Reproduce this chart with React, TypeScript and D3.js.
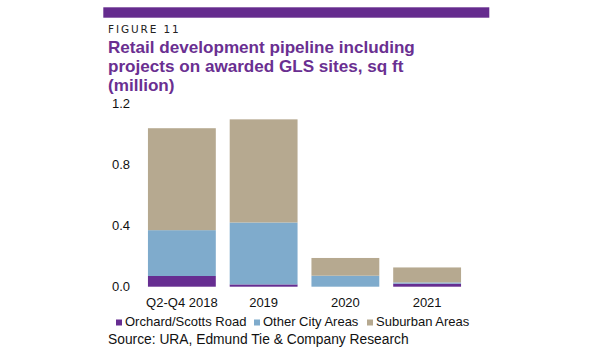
import React from "react";
import * as d3 from "d3";

const categories = ["Q2-Q4 2018", "2019", "2020", "2021"];
const seriesNames = ["Orchard/Scotts Road", "Other City Areas", "Suburban Areas"];
const orchard = [0.07, 0.015, 0.0, 0.02];
const otherCity = [0.3, 0.405, 0.072, 0.008];
const suburban = [0.667, 0.675, 0.116, 0.098];
const yTicks = [0.0, 0.4, 0.8, 1.2];
const colors = ["#662d91", "#7fabcc", "#b6a990"];
const titleLines = [
  "Retail development pipeline including",
  "projects on awarded GLS sites, sq ft",
  "(million)",
];

export default function App() {
  const W = 600, H = 360;
  const x = d3.scaleBand<string>().domain(categories).range([141, 468]).paddingInner(0.17).paddingOuter(0.085);
  const y = d3.scaleLinear().domain([0, 1.2]).range([286.7, 103.3]);
  const rows = categories.map((c, i) => ({ cat: c, s0: orchard[i], s1: otherCity[i], s2: suburban[i] }));
  const stack = d3.stack<any>().keys(["s0", "s1", "s2"]);
  const layers = stack(rows);
  const fmt = d3.format(".1f");
  const legendX = [116, 254, 367];
  const font = "'Liberation Sans', Arial, sans-serif";
  return (
    <svg width={W} height={H} style={{ position: "absolute", left: 0, top: 0 }}>
      <rect x={0} y={0} width={W} height={H} fill="#fff" />
      <rect x={103.3} y={7.3} width={386} height={10.4} fill="#652b8e" />
      <text x={108} y={32.7} fontFamily="'DejaVu Sans', Verdana, sans-serif" fontSize={10.5} letterSpacing={1.9} fill="#222">FIGURE 11</text>
      {titleLines.map((t, i) => (
        <text key={i} x={108} y={53.3 + i * 18.8} fontFamily={font} fontWeight="bold" fontSize={17.1} fill="#6a2f91">{t}</text>
      ))}
      {yTicks.map((t) => (
        <text key={t} x={130} y={y(t)} dy="0.35em" textAnchor="end" fontFamily={font} fontSize={13} fill="#111">{fmt(t)}</text>
      ))}
      {layers.map((layer, li) => (
        <g key={li} fill={colors[li]}>
          {layer.map((d: any, i: number) => (
            <rect key={i} x={x(categories[i])} width={x.bandwidth()} y={y(d[1])} height={Math.max(0, y(d[0]) - y(d[1]))} />
          ))}
        </g>
      ))}
      {categories.map((c) => (
        <text key={c} x={(x(c) as number) + x.bandwidth() / 2} y={306.5} textAnchor="middle" fontFamily={font} fontSize={13} fill="#111">{c}</text>
      ))}
      {seriesNames.map((n, i) => (
        <g key={n}>
          <rect x={legendX[i]} y={319.5} width={6} height={6} fill={colors[i]} />
          <text x={legendX[i] + 9} y={326} fontFamily={font} fontSize={13} fill="#111">{n}</text>
        </g>
      ))}
      <text x={108} y={344} fontFamily={font} fontSize={13.8} fill="#111">Source: URA, Edmund Tie &amp; Company Research</text>
    </svg>
  );
}
